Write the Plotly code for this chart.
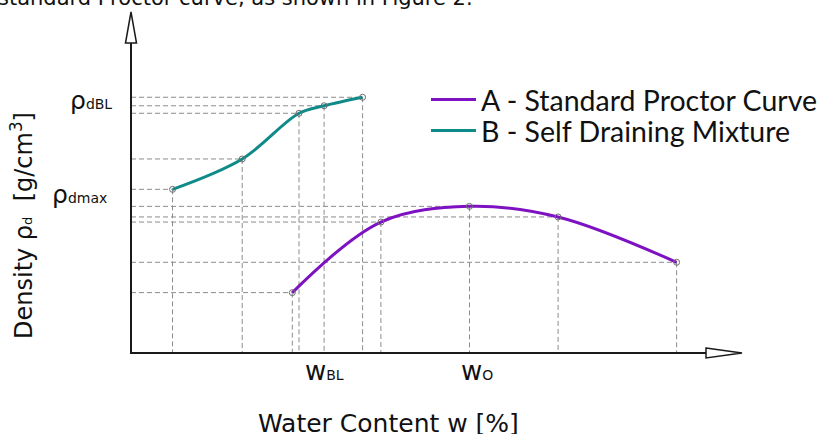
import plotly.graph_objects as go

# ---- data (arbitrary units) ----
water_A = [26.4, 40.9, 55.4, 69.9, 89.3]
density_A = [17.7, 38.4, 43.0, 39.9, 26.6]
water_B = [6.8, 18.2, 27.5, 31.6, 37.9]
density_B = [48.0, 56.9, 70.3, 72.5, 75.0]
name_A = "A - Standard Proctor Curve"
name_B = "B - Self Draining Mixture"

W, H = 826, 434
ML, MR, MT, MB = 131, 84, 12, 81
PW, PH = W - ML - MR, H - MT - MB


def px(x):
    return (x - ML) / PW


def py(y):
    return (H - MB - y) / PH


PURPLE = "#7e12c2"
TEAL = "#0e8a88"
GRID = "#8c8c8c"

fig = go.Figure()

# dashed guide lines from each point to the axes
gx, gy = [], []
for xs, ys in ((water_B, density_B), (water_A, density_A)):
    for x, y in zip(xs, ys):
        gx += [0, x, None, x, x, None]
        gy += [y, y, None, y, 0, None]
fig.add_trace(go.Scatter(x=gx, y=gy, mode="lines", showlegend=False, hoverinfo="skip",
                         line=dict(color=GRID, width=1, dash="5px,3px")))

fig.add_trace(go.Scatter(x=water_A, y=density_A, mode="lines", name=name_A, legend="legend",
                         line=dict(color=PURPLE, width=3, shape="spline")))
fig.add_trace(go.Scatter(x=water_B, y=density_B, mode="lines", name=name_B, legend="legend2",
                         line=dict(color=TEAL, width=3, shape="spline")))
for xs, ys in ((water_A, density_A), (water_B, density_B)):
    fig.add_trace(go.Scatter(x=xs, y=ys, mode="markers", showlegend=False, hoverinfo="skip",
                             marker=dict(symbol="circle-open", size=6, color="#6e6e6e",
                                         line=dict(width=1, color="#6e6e6e"))))

# axes with open arrowheads
shapes = [
    dict(type="line", xref="paper", yref="paper", x0=px(131), y0=py(353), x1=px(706), y1=py(353),
         line=dict(color="#1a1a1a", width=2)),
    dict(type="line", xref="paper", yref="paper", x0=px(131), y0=py(354), x1=px(131), y1=py(43),
         line=dict(color="#1a1a1a", width=2)),
    dict(type="path", xref="paper", yref="paper",
         path=f"M{px(706)},{py(348)} L{px(742)},{py(353)} L{px(706)},{py(358)} Z",
         fillcolor="white", line=dict(color="#1a1a1a", width=1.5)),
    dict(type="path", xref="paper", yref="paper",
         path=f"M{px(125.5)},{py(43)} L{px(131)},{py(12)} L{px(136.5)},{py(43)} Z",
         fillcolor="white", line=dict(color="#1a1a1a", width=1.5)),
]

i_max = density_A.index(max(density_A))
LF = "DejaVu Sans"
annotations = [
    dict(text="ρ<span style='font-size:14px'>dBL</span>", xref="paper", yref="y",
         x=px(114), y=max(density_B), yshift=-3, xanchor="right", yanchor="middle",
         showarrow=False, font=dict(family=LF, size=25, color="#111")),
    dict(text="ρ<span style='font-size:14px'>dmax</span>", xref="paper", yref="y",
         x=px(109), y=density_A[i_max], yshift=12, xanchor="right", yanchor="middle",
         showarrow=False, font=dict(family=LF, size=25, color="#111")),
    dict(text="w<span style='font-size:14px'>BL</span>", xref="x", yref="paper",
         x=water_B[3], y=py(371), xanchor="center", yanchor="middle",
         showarrow=False, font=dict(family=LF, size=26, color="#111")),
    dict(text="w<span style='font-size:14px'>O</span>", xref="x", yref="paper",
         x=water_A[i_max], xshift=8, y=py(371), xanchor="center", yanchor="middle",
         showarrow=False, font=dict(family=LF, size=26, color="#111")),
    dict(text="Water Content w [%]", xref="paper", yref="paper", x=px(388), y=py(423),
         xanchor="center", yanchor="middle", showarrow=False,
         font=dict(family=LF, size=25, color="#111")),
    dict(text="Density ρ<span style='font-size:13px'>d</span>  [g/cm<sup>3</sup>]",
         xref="paper", yref="paper", x=px(22), y=py(226), textangle=-90,
         xanchor="center", yanchor="middle", showarrow=False,
         font=dict(family=LF, size=24, color="#111")),
    dict(text="standard Proctor curve, as shown in Figure 2.", xref="paper", yref="paper",
         x=px(-4), y=py(12), xanchor="left", yanchor="bottom", showarrow=False,
         font=dict(family=LF, size=21, color="#111")),
]

leg_common = dict(xanchor="left", yanchor="middle", itemwidth=45,
                  font=dict(family="Lato", size=28.5, color="#111"),
                  bgcolor="rgba(0,0,0,0)", borderwidth=0)

fig.update_layout(
    width=W, height=H,
    margin=dict(l=ML, r=MR, t=MT, b=MB, autoexpand=False),
    paper_bgcolor="white", plot_bgcolor="white",
    xaxis=dict(range=[0, 100], visible=False),
    yaxis=dict(range=[0, 100], visible=False),
    shapes=shapes, annotations=annotations,
    showlegend=True,
    legend=dict(x=px(426), y=py(100), **leg_common),
    legend2=dict(x=px(426), y=py(131), **leg_common),
)

fig.write_html("out.html", config={"displayModeBar": False},
               post_script="document.body.style.margin='0px';")
